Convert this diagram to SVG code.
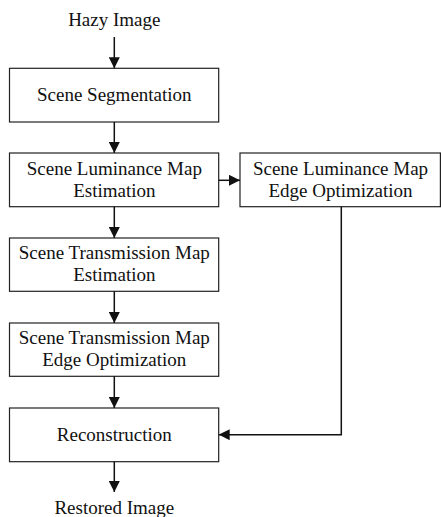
<svg xmlns="http://www.w3.org/2000/svg" width="441" height="517" viewBox="0 0 441 517">
<style>
.box{fill:#fff;stroke:#222;stroke-width:1.2}
.t{font-family:"Liberation Serif","Times New Roman",serif;font-size:19px;fill:#111;text-anchor:middle}
.c{fill:none;stroke:#111;stroke-width:1.5}
</style>
<defs>
<marker id="ah" markerWidth="11" markerHeight="11" refX="11" refY="5.5" orient="auto" markerUnits="userSpaceOnUse">
<path d="M0,0 L11,5.5 L0,11 Z" fill="#111"/>
</marker>
</defs>
<rect width="441" height="517" fill="#fff"/>
<text class="t" x="114.3" y="26">Hazy Image</text>
<g id="seg"><rect class="box" x="9.5" y="68.3" width="209.2" height="53.7"/><text class="t" x="114.3" y="100.7">Scene Segmentation</text></g>
<g id="lum"><rect class="box" x="9.5" y="153" width="209.2" height="53.7"/><text class="t" x="114.3" y="174.5">Scene Luminance Map</text><text class="t" x="114.3" y="196.7">Estimation</text></g>
<g id="lumedge"><rect class="box" x="240" y="153" width="200.4" height="53.7"/><text class="t" x="340.5" y="174.5">Scene Luminance Map</text><text class="t" x="340.5" y="196.7">Edge Optimization</text></g>
<g id="trans"><rect class="box" x="9.5" y="238" width="209.2" height="53.3"/><text class="t" x="114.3" y="259.3">Scene Transmission Map</text><text class="t" x="114.3" y="281.3">Estimation</text></g>
<g id="transedge"><rect class="box" x="9.5" y="323" width="209.2" height="53.3"/><text class="t" x="114.3" y="344.3">Scene Transmission Map</text><text class="t" x="114.3" y="366.3">Edge Optimization</text></g>
<g id="recon"><rect class="box" x="9.5" y="408" width="209.2" height="53.7"/><text class="t" x="114.3" y="440.5">Reconstruction</text></g>
<text class="t" x="114.3" y="514">Restored Image</text>
<g id="connectors">
<path class="c" d="M114.3,37 V68.3" marker-end="url(#ah)"/>
<path class="c" d="M114.3,122 V153" marker-end="url(#ah)"/>
<path class="c" d="M218.7,180.3 H240" marker-end="url(#ah)"/>
<path class="c" d="M114.3,206.7 V238" marker-end="url(#ah)"/>
<path class="c" d="M114.3,291.3 V323" marker-end="url(#ah)"/>
<path class="c" d="M114.3,376.3 V408" marker-end="url(#ah)"/>
<path class="c" d="M341.3,206.7 V434.7 H218.7" marker-end="url(#ah)"/>
<path class="c" d="M114.3,461.7 V492" marker-end="url(#ah)"/>
</g>
</svg>
